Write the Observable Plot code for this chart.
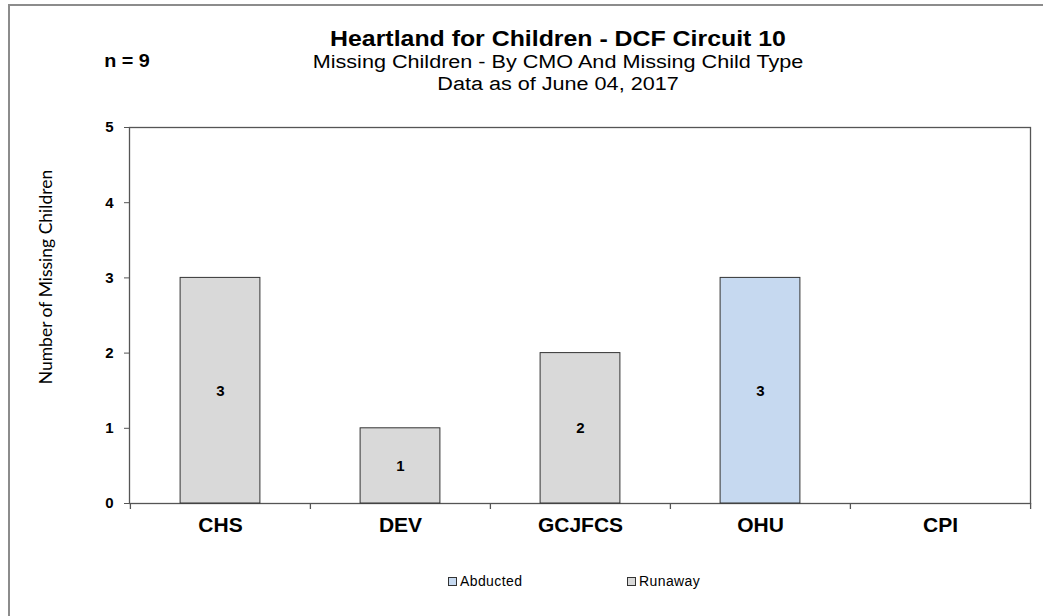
<!DOCTYPE html>
<html><head><meta charset="utf-8">
<script src="https://cdn.jsdelivr.net/npm/d3@7"></script>
<script src="https://cdn.jsdelivr.net/npm/@observablehq/plot@0.6"></script>
<style>
body{margin:0;background:#fff;}
#wrap{position:relative;width:1043px;height:616px;overflow:hidden;font-family:"Liberation Sans",Arial,sans-serif;color:#000;}
#wrap svg{position:absolute;left:0;top:0;}
.t{position:absolute;white-space:nowrap;transform:translate(-50%,-50%);line-height:1;}
.border{position:absolute;left:8px;top:4px;right:-10px;bottom:-10px;border-left:2px solid #8c8c8c;border-top:2px solid #8c8c8c;}
.lg{position:absolute;display:flex;align-items:center;font-size:14px;white-space:nowrap;letter-spacing:0.4px;}
.lg span.sw{display:inline-block;width:7px;height:7px;border:1px solid #333;margin-right:3px;}
</style></head>
<body><div id="wrap"><div class="border"></div></div>
<script>
const categories = ["CHS", "DEV", "GCJFCS", "OHU", "CPI"];
const types = ["Abducted", "Runaway"];
const abducted = [0, 0, 0, 3, 0];
const runaway = [3, 1, 2, 0, 0];
const yTicks = [0, 1, 2, 3, 4, 5];
const typeColors = ["#c6d9f0", "#d9d9d9"];
const titleText = "Heartland for Children - DCF Circuit 10";
const subtitleText = "Missing Children - By CMO And Missing Child Type";
const dateText = "Data as of June 04, 2017";
const nText = "n = 9";
const yLabelText = "Number of  Missing Children";

const data = categories.flatMap((c, i) => [
  {cmo: c, type: "Abducted", value: abducted[i]},
  {cmo: c, type: "Runaway", value: runaway[i]}
]).filter(d => d.value > 0);

const W = 1043, H = 616, mL = 129, mR = 13, mT = 127, mB = 113;
const step = (W - mL - mR) / categories.length;
const barW = 80;
const inset = (step - barW) / 2;

const chart = Plot.plot({
  width: W, height: H,
  marginLeft: mL, marginRight: mR, marginTop: mT, marginBottom: mB,
  style: {fontFamily: '"Liberation Sans", Arial, sans-serif', background: "transparent", color: "#000", overflow: "visible"},
  x: {domain: categories, padding: 0, label: null},
  y: {domain: [0, 5], label: null},
  color: {domain: types, range: typeColors},
  marks: [
    Plot.frame({stroke: "#555", strokeWidth: 1.3}),
    Plot.barY(data, Plot.stackY({x: "cmo", y: "value", fill: "type", order: types, stroke: "#333", strokeWidth: 1, insetLeft: inset, insetRight: inset})),
    Plot.text(data, Plot.stackY({x: "cmo", y: "value", z: "type", order: types, text: "value", fontWeight: "bold", fontSize: 15, fill: "#000"})),
    Plot.axisY({ticks: yTicks, tickSize: 5, tickPadding: 11, fontSize: 15, fontWeight: "bold", label: null, tickFormat: d3.format("d"), stroke: "#555"}),
    Plot.axisX({tickSize: 0, tickPadding: 14, fontSize: 21, fontWeight: "bold", label: null}),
    Plot.ruleX(categories, {x: d => d, y1: 0, y2: 0, insetBottom: -6, dx: -step / 2, stroke: "#555", strokeWidth: 1.3}),
    Plot.ruleX([categories[categories.length - 1]], {x: d => d, y1: 0, y2: 0, insetBottom: -6, dx: step / 2, stroke: "#555", strokeWidth: 1.3})
  ]
});

const wrap = document.getElementById("wrap");
wrap.appendChild(chart);

function addText(txt, x, y, css) {
  const d = document.createElement("div");
  d.className = "t";
  d.textContent = txt;
  d.style.left = x + "px";
  d.style.top = y + "px";
  Object.assign(d.style, css || {});
  wrap.appendChild(d);
  return d;
}
addText(titleText, 558, 39, {fontSize: "22px", fontWeight: "bold", transform: "translate(-50%,-50%) scaleX(1.13)"});
addText(subtitleText, 558, 62, {fontSize: "18px", transform: "translate(-50%,-50%) scaleX(1.2)"});
addText(dateText, 558, 84, {fontSize: "18px", transform: "translate(-50%,-50%) scaleX(1.2)"});
addText(nText, 127, 61, {fontSize: "18px", fontWeight: "bold", transform: "translate(-50%,-50%) scaleX(1.1)"});
addText(yLabelText, 46, 277, {fontSize: "17.5px", fontFamily: "Lato, 'Open Sans', sans-serif", transform: "translate(-50%,-50%) rotate(-90deg)"});

const legendX = [448, 627];
types.forEach((t, i) => {
  const d = document.createElement("div");
  d.className = "lg";
  d.style.left = legendX[i] + "px";
  d.style.top = "573px";
  const sw = document.createElement("span");
  sw.className = "sw";
  sw.style.background = typeColors[i];
  d.appendChild(sw);
  d.appendChild(document.createTextNode(t));
  wrap.appendChild(d);
});
</script>
</body></html>
